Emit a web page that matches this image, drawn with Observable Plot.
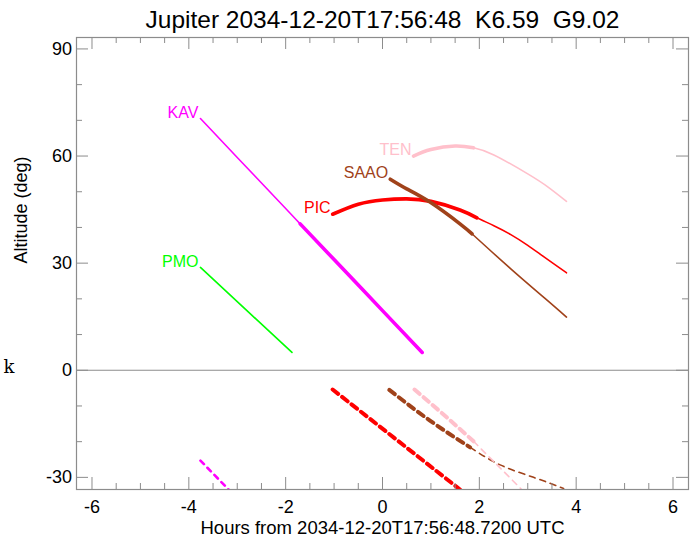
<!DOCTYPE html>
<html><head><meta charset="utf-8">
<script src="https://cdn.jsdelivr.net/npm/d3@7"></script>
<script src="https://cdn.jsdelivr.net/npm/@observablehq/plot@0.6"></script>
<style>body{margin:0;background:#fff;} svg{display:block;}</style>
</head><body><div id="chart"></div>
<script>
// ---- data ----
const titleText = "Jupiter 2034-12-20T17:56:48  K6.59  G9.02";
const xLabel = "Hours from 2034-12-20T17:56:48.7200 UTC";
const yLabel = "Altitude (deg)";
const sideMark = "k";

const xMajor = [-6, -4, -2, 0, 2, 4, 6];
const xMinor = [-5.5, -5, -4.5, -3.5, -3, -2.5, -1.5, -1, -0.5, 0.5, 1, 1.5, 2.5, 3, 3.5, 4.5, 5, 5.5];
const yMajor = [-30, 0, 30, 60, 90];
const yMinor = [-20, -10, 10, 20, 40, 50, 70, 80];

const sites = ["KAV", "PMO", "PIC", "SAAO", "TEN"];
const siteColors = ["#ff00ff", "#00ff00", "#ff0000", "#a0421a", "#ffc0cb"];

// target altitude curves (solid)
const kavHours = [-3.76, -3.0, -2.0, -1.7, -1.0, 0.0, 0.82];
const kavAlt   = [70.5, 59.6, 45.3, 41.0, 31.0, 16.7, 5.0];
const pmoHours = [-3.76, -2.8, -1.87];
const pmoAlt   = [28.8, 16.7, 5.0];
const picHours = [-1.03, -0.5, 0.0, 0.5, 1.0, 1.6, 1.95, 2.3, 2.65, 3.0, 3.35, 3.8];
const picAlt   = [43.7, 46.5, 47.7, 48.0, 47.3, 44.9, 42.7, 40.5, 38.0, 35.0, 31.6, 27.3];
const saaoHours = [0.16, 0.5, 0.98, 1.6, 1.85, 2.65, 3.35, 3.8];
const saaoAlt   = [53.5, 50.8, 47.1, 41.0, 38.2, 28.4, 20.2, 14.9];
const tenHours = [0.64, 1.0, 1.5, 1.88, 2.3, 3.0, 3.42, 3.8];
const tenAlt   = [60.0, 61.8, 62.8, 62.3, 60.3, 55.0, 51.3, 47.3];

// heavy (good) portion of each curve: start / end hour
const thickStart = [-1.7, null, -1.03, 0.16, 0.64];
const thickEnd   = [0.82, null, 1.95, 1.85, 1.88];

// dashed curves below the horizon
const kavLowHours = [-3.76, -3.18];
const kavLowAlt   = [-25.3, -33.4];
const picLowHours = [-1.03, 1.6];
const picLowAlt   = [-5.4, -33.4];
const saaoLowHours = [0.14, 0.98, 1.81, 2.43, 3.12, 3.74];
const saaoLowAlt   = [-5.5, -14.1, -21.6, -26.5, -30.0, -33.1];
const tenLowHours = [0.66, 1.26, 1.88, 2.86];
const tenLowAlt   = [-5.4, -12.4, -19.9, -33.2];
const lowThickEnd = [null, null, 1.6, 1.81, 1.88];

// ---- build ----
const hoursList = [kavHours, pmoHours, picHours, saaoHours, tenHours];
const altList = [kavAlt, pmoAlt, picAlt, saaoAlt, tenAlt];
const lowHoursList = [kavLowHours, null, picLowHours, saaoLowHours, tenLowHours];
const lowAltList = [kavLowAlt, null, picLowAlt, saaoLowAlt, tenLowAlt];

const W = 697, H = 539, mL = 76, mR = 9, mT = 37, mB = 50;
const innerW = W - mL - mR, innerH = H - mT - mB;
const gray = "#8c8c8c";
const majLen = 12, minLen = 6;

const marks = [];
marks.push(Plot.ruleY([0], {stroke: gray, strokeWidth: 1.2}));

sites.forEach((name, i) => {
  const color = siteColors[i];
  const rows = hoursList[i].map((h, j) => ({h, a: altList[i][j]}));
  const curve = rows.length > 3 ? "natural" : "linear";
  marks.push(Plot.line(rows, {x: "h", y: "a", stroke: color, strokeWidth: 1.6, curve}));
  if (thickStart[i] != null) {
    const sub = rows.filter(r => r.h >= thickStart[i] - 1e-9 && r.h <= thickEnd[i] + 1e-9);
    marks.push(Plot.line(sub, {x: "h", y: "a", stroke: color, strokeWidth: 3.6, curve}));
  }
  marks.push(Plot.text([rows[0]], {x: "h", y: "a", text: () => name, fill: color,
    textAnchor: "end", lineAnchor: "middle", dx: -2, dy: -6, fontSize: 16}));
  if (lowHoursList[i]) {
    const low = lowHoursList[i].map((h, j) => ({h, a: lowAltList[i][j]}));
    const lc = low.length > 3 ? "natural" : "linear";
    if (lowThickEnd[i] == null) {
      marks.push(Plot.line(low, {x: "h", y: "a", stroke: color, strokeWidth: 2.6,
        strokeDasharray: "5,5", curve: lc, clip: true}));
    } else {
      const thick = low.filter(r => r.h <= lowThickEnd[i] + 1e-9);
      const thin = low.filter(r => r.h >= lowThickEnd[i] - 1e-9);
      if (thin.length > 1) marks.push(Plot.line(thin, {x: "h", y: "a", stroke: color, strokeWidth: 1.6,
        strokeDasharray: "6,5", curve: lc, clip: true}));
      marks.push(Plot.line(thick, {x: "h", y: "a", stroke: color, strokeWidth: 4,
        strokeDasharray: "7,5", curve: lc, clip: true}));
    }
  }
});

// ticks on all four sides, pointing inward
marks.push(Plot.tickX(xMajor, {x: d => d, stroke: gray, insetTop: innerH - majLen}));
marks.push(Plot.tickX(xMinor, {x: d => d, stroke: gray, insetTop: innerH - minLen}));
marks.push(Plot.tickX(xMajor, {x: d => d, stroke: gray, insetBottom: innerH - majLen}));
marks.push(Plot.tickX(xMinor, {x: d => d, stroke: gray, insetBottom: innerH - minLen}));
marks.push(Plot.tickY(yMajor, {y: d => d, stroke: gray, insetRight: innerW - majLen}));
marks.push(Plot.tickY(yMinor, {y: d => d, stroke: gray, insetRight: innerW - minLen}));
marks.push(Plot.tickY(yMajor, {y: d => d, stroke: gray, insetLeft: innerW - majLen}));
marks.push(Plot.tickY(yMinor, {y: d => d, stroke: gray, insetLeft: innerW - minLen}));
marks.push(Plot.frame({stroke: gray, strokeWidth: 1.2}));

marks.push(Plot.axisX(xMajor, {anchor: "bottom", tickSize: 0, tickPadding: 11, fontSize: 18,
  tickFormat: d => String(d), label: null}));
marks.push(Plot.axisY(yMajor, {anchor: "left", tickSize: 0, tickPadding: 4.5, fontSize: 18,
  tickFormat: d => String(d), label: null}));

marks.push(Plot.text([titleText], {text: d => d, frameAnchor: "top", lineAnchor: "bottom",
  dy: -10, fontSize: 24.5}));
marks.push(Plot.text([xLabel], {text: d => d, frameAnchor: "bottom", lineAnchor: "bottom",
  dy: 44, fontSize: 18.5}));
marks.push(Plot.text([yLabel], {text: d => d, frameAnchor: "left", rotate: -90,
  lineAnchor: "middle", dx: -55, fontSize: 18}));
marks.push(Plot.text([sideMark], {text: d => d, y: () => 0, frameAnchor: "left", textAnchor: "start",
  lineAnchor: "bottom", dx: -73, dy: 2.5, fontSize: 18, fontFamily: "DejaVu Serif, Liberation Serif, serif"}));

const plot = Plot.plot({
  width: W, height: H,
  marginLeft: mL, marginRight: mR, marginTop: mT, marginBottom: mB,
  style: {fontFamily: "Liberation Sans, Arial, sans-serif", background: "#fff", color: "#000"},
  x: {domain: [-6.32, 6.32], axis: null},
  y: {domain: [-33.4, 93.2], axis: null},
  marks
});
document.getElementById("chart").append(plot);
</script></body></html>
